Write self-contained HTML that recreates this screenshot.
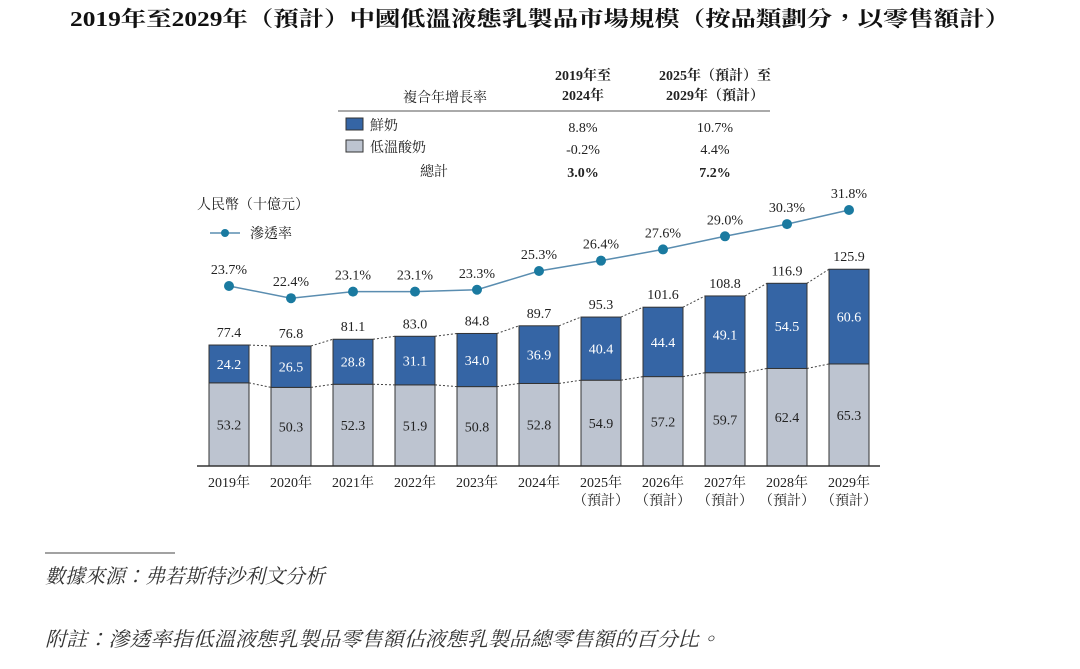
<!DOCTYPE html>
<html><head><meta charset="utf-8"><style>
body{margin:0;background:#fff;width:1080px;height:669px;overflow:hidden}
svg{display:block;font-family:"Liberation Serif","Noto Serif CJK TC","Noto Serif CJK SC",serif}
</style></head><body>
<svg id="c" width="1080" height="669" viewBox="0 0 1080 669">
<text x="540" y="26" text-anchor="middle" font-size="21" font-weight="bold" fill="#111" textLength="940" lengthAdjust="spacingAndGlyphs">2019年至2029年（預計）中國低溫液態乳製品市場規模（按品類劃分，以零售額計）</text>
<g font-size="14" fill="#222">
<text x="445" y="102" text-anchor="middle">複合年增長率</text>
<text x="583" y="80" text-anchor="middle" font-weight="bold">2019年至</text>
<text x="583" y="100" text-anchor="middle" font-weight="bold">2024年</text>
<text x="715" y="80" text-anchor="middle" font-weight="bold">2025年（預計）至</text>
<text x="715" y="100" text-anchor="middle" font-weight="bold">2029年（預計）</text>
<line x1="338" y1="111" x2="770" y2="111" stroke="#555" stroke-width="1"/>
<rect x="346" y="118" width="17" height="12" fill="#3565a5" stroke="#333"/>
<text x="370" y="130">鮮奶</text>
<text x="583" y="132" text-anchor="middle">8.8%</text>
<text x="715" y="132" text-anchor="middle">10.7%</text>
<rect x="346" y="140" width="17" height="12" fill="#bdc4d0" stroke="#333"/>
<text x="370" y="152">低溫酸奶</text>
<text x="583" y="154" text-anchor="middle">-0.2%</text>
<text x="715" y="154" text-anchor="middle">4.4%</text>
<text x="420" y="176">總計</text>
<text x="583" y="177" text-anchor="middle" font-weight="bold">3.0%</text>
<text x="715" y="177" text-anchor="middle" font-weight="bold">7.2%</text>
</g>
<text x="197" y="209" font-size="14" fill="#222">人民幣（十億元）</text>
<g>
<line x1="210" y1="233" x2="240" y2="233" stroke="#5a8db0" stroke-width="1.5"/>
<circle cx="225" cy="233" r="4" fill="#1a7aa0"/>
<text x="250" y="238" font-size="14" fill="#222">滲透率</text>
</g>
<g id="plot"></g>
<line x1="45" y1="553" x2="175" y2="553" stroke="#444" stroke-width="1"/>
<text x="45" y="583" font-size="20" font-style="italic" fill="#333">數據來源：弗若斯特沙利文分析</text>
<text x="45" y="646" font-size="20" font-style="italic" fill="#333" textLength="675" lengthAdjust="spacingAndGlyphs">附註：滲透率指低溫液態乳製品零售額佔液態乳製品總零售額的百分比。</text>
</svg>
<script>
const years = ["2019年","2020年","2021年","2022年","2023年","2024年","2025年","2026年","2027年","2028年","2029年"];
const forecast = [false,false,false,false,false,false,true,true,true,true,true];
const yogurt = [53.2,50.3,52.3,51.9,50.8,52.8,54.9,57.2,59.7,62.4,65.3];
const freshMilk = [24.2,26.5,28.8,31.1,34.0,36.9,40.4,44.4,49.1,54.5,60.6];
const totals = [77.4,76.8,81.1,83.0,84.8,89.7,95.3,101.6,108.8,116.9,125.9];
const penetration = [23.7,22.4,23.1,23.1,23.3,25.3,26.4,27.6,29.0,30.3,31.8];

const NS="http://www.w3.org/2000/svg";
const g=document.getElementById('plot');
const base=466, barW=40;
const xC=i=>229+i*62;
const yV=v=>base-v*1.563;
const yP=p=>286-(p-23.7)*9.38;
function mk(t,a){const e=document.createElementNS(NS,t);for(const k in a)e.setAttribute(k,a[k]);g.appendChild(e);return e;}
function txt(x,y,s,fill,anchor){const e=mk('text',{x:x,y:y,'font-size':14,fill:fill,'text-anchor':anchor||'middle'});e.textContent=s;return e;}
for(let i=0;i<years.length-1;i++){
  const l1=mk('line',{x1:xC(i)+barW/2,y1:yV(totals[i]),x2:xC(i+1)-barW/2,y2:yV(totals[i+1]),stroke:'#444','stroke-dasharray':'2,2','stroke-width':1});
  
  
  const l2=mk('line',{x1:xC(i)+barW/2,y1:yV(yogurt[i]),x2:xC(i+1)-barW/2,y2:yV(yogurt[i+1]),stroke:'#444','stroke-dasharray':'2,2','stroke-width':1});
  
  
}
for(let i=0;i<years.length;i++){
  const x=xC(i)-barW/2;
  const r1=mk('rect',{x:x,y:yV(yogurt[i]),width:barW,height:base-yV(yogurt[i]),fill:'#bdc4d0',stroke:'#333','stroke-width':1});
  
  
  const r2=mk('rect',{x:x,y:yV(yogurt[i]+freshMilk[i]),width:barW,height:freshMilk[i]*1.563,fill:'#3565a5',stroke:'#333','stroke-width':1});
  
  
  const t1=txt(xC(i),(yV(yogurt[i])+base)/2+5,yogurt[i].toFixed(1),'#222');
  
  
  const t2=txt(xC(i),(yV(yogurt[i])+yV(yogurt[i]+freshMilk[i]))/2+5,freshMilk[i].toFixed(1),'#fff');
  
  
  const t3=txt(xC(i),yV(totals[i])-8,totals[i].toFixed(1),'#222');
  
  
  const t4=txt(xC(i),487,years[i],'#222');
  
  
  if(forecast[i]){const t5=txt(xC(i),505,'（預計）','#222');
    
    }
}
const ax=mk('line',{x1:197,y1:base,x2:880,y2:base,stroke:'#333','stroke-width':1.5});


const pts=penetration.map((p,i)=>xC(i)+','+yP(p)).join(' ');
const pl=mk('polyline',{points:pts,fill:'none',stroke:'#5a8db0','stroke-width':1.5});


for(let i=0;i<penetration.length;i++){
  const c=mk('circle',{cx:xC(i),cy:yP(penetration[i]),r:5,fill:'#1a7aa0'});
  
  
  const t=txt(xC(i),yP(penetration[i])-12,penetration[i].toFixed(1)+'%','#222');
  
  
}
</script>
</body></html>
